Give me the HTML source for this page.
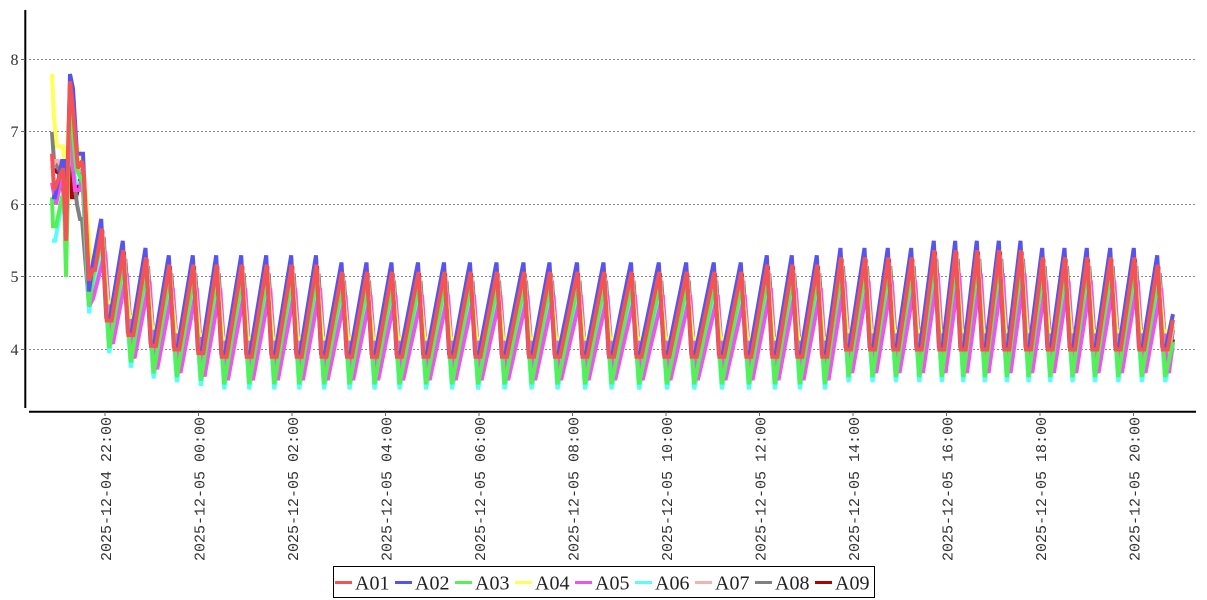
<!DOCTYPE html>
<html><head><meta charset="utf-8"><style>
html,body{margin:0;padding:0;background:#fff;}
svg{display:block;}
</style></head><body>
<svg id="c" width="1207" height="600" viewBox="0 0 1207 600" xmlns="http://www.w3.org/2000/svg">
<rect width="1207" height="600" fill="#fff"/>
<g stroke="#888" stroke-width="1" stroke-dasharray="2,2">
<line x1="29" x2="1196" y1="59.5" y2="59.5"/>
<line x1="29" x2="1196" y1="131.5" y2="131.5"/>
<line x1="29" x2="1196" y1="204.5" y2="204.5"/>
<line x1="29" x2="1196" y1="276.5" y2="276.5"/>
<line x1="29" x2="1196" y1="349.5" y2="349.5"/>
</g>
<g id="series"></g>
<g stroke="#000" stroke-width="2">
<line x1="25.3" x2="25.3" y1="10" y2="408"/>
<line x1="29" x2="1196" y1="411.7" y2="411.7"/>
</g>
<g stroke="#666" stroke-width="1">
<line x1="21" x2="25" y1="59.5" y2="59.5"/>
<line x1="21" x2="25" y1="131.5" y2="131.5"/>
<line x1="21" x2="25" y1="204.5" y2="204.5"/>
<line x1="21" x2="25" y1="276.5" y2="276.5"/>
<line x1="21" x2="25" y1="349.5" y2="349.5"/>
<line x1="105" x2="105" y1="412" y2="416"/>
<line x1="198.5" x2="198.5" y1="412" y2="416"/>
<line x1="292" x2="292" y1="412" y2="416"/>
<line x1="385.5" x2="385.5" y1="412" y2="416"/>
<line x1="479" x2="479" y1="412" y2="416"/>
<line x1="572.5" x2="572.5" y1="412" y2="416"/>
<line x1="666" x2="666" y1="412" y2="416"/>
<line x1="759.5" x2="759.5" y1="412" y2="416"/>
<line x1="853" x2="853" y1="412" y2="416"/>
<line x1="946.5" x2="946.5" y1="412" y2="416"/>
<line x1="1040" x2="1040" y1="412" y2="416"/>
<line x1="1133.5" x2="1133.5" y1="412" y2="416"/>
</g>
<g font-family="'Liberation Serif', serif" font-size="16" fill="#333" text-anchor="end">
<text x="18.5" y="65">8</text>
<text x="18.5" y="137">7</text>
<text x="18.5" y="210">6</text>
<text x="18.5" y="282">5</text>
<text x="18.5" y="355">4</text>
</g>
<g font-family="'Liberation Mono', monospace" font-size="15" fill="#333" text-anchor="end">
<text transform="translate(111,417) rotate(-90)">2025-12-04 22:00</text>
<text transform="translate(204.5,417) rotate(-90)">2025-12-05 00:00</text>
<text transform="translate(298,417) rotate(-90)">2025-12-05 02:00</text>
<text transform="translate(391.5,417) rotate(-90)">2025-12-05 04:00</text>
<text transform="translate(485,417) rotate(-90)">2025-12-05 06:00</text>
<text transform="translate(578.5,417) rotate(-90)">2025-12-05 08:00</text>
<text transform="translate(672,417) rotate(-90)">2025-12-05 10:00</text>
<text transform="translate(765.5,417) rotate(-90)">2025-12-05 12:00</text>
<text transform="translate(859,417) rotate(-90)">2025-12-05 14:00</text>
<text transform="translate(952.5,417) rotate(-90)">2025-12-05 16:00</text>
<text transform="translate(1046,417) rotate(-90)">2025-12-05 18:00</text>
<text transform="translate(1139.5,417) rotate(-90)">2025-12-05 20:00</text>
</g>
<rect x="333.5" y="566.5" width="541" height="31" fill="#fff" stroke="#000" stroke-width="1"/>
<g stroke-width="3">
<line x1="335" x2="352" y1="582.5" y2="582.5" stroke="#f55353"/>
<line x1="395" x2="412" y1="582.5" y2="582.5" stroke="#5555ee"/>
<line x1="455" x2="472" y1="582.5" y2="582.5" stroke="#55f055"/>
<line x1="515" x2="532" y1="582.5" y2="582.5" stroke="#ffff55"/>
<line x1="575" x2="592" y1="582.5" y2="582.5" stroke="#ee55ee"/>
<line x1="635" x2="652" y1="582.5" y2="582.5" stroke="#55ffff"/>
<line x1="695" x2="712" y1="582.5" y2="582.5" stroke="#f5b0b0"/>
<line x1="755" x2="772" y1="582.5" y2="582.5" stroke="#808080"/>
<line x1="815" x2="832" y1="582.5" y2="582.5" stroke="#b00000"/>
</g>
<g font-family="'Liberation Serif', serif" font-size="20" fill="#222">
<text x="355" y="589.5">A01</text>
<text x="415" y="589.5">A02</text>
<text x="475" y="589.5">A03</text>
<text x="535" y="589.5">A04</text>
<text x="595" y="589.5">A05</text>
<text x="655" y="589.5">A06</text>
<text x="715" y="589.5">A07</text>
<text x="775" y="589.5">A08</text>
<text x="835" y="589.5">A09</text>
</g>
</svg>
<script>
(function(){
var Y=function(v){return 349.5-(v-4)*72.5;};
var P=[101.7,123.3,146,169.3,193.3,216.7,241.7,266.7,291.7,316.5,342,367,392,418.5,444.5,470.5,497,524,550,577.5,604,631.5,659.3,686.7,714.3,741.3,767.3,792.3,817.3,841,865,888.3,911.7,934.3,955.7,977.3,999.3,1021,1042.7,1065,1087.3,1110.7,1134.3,1157.7];
var BP=[5.8,5.5,5.4,5.3,5.3,5.3,5.3,5.3,5.3,5.3];
var i;
for(i=0;i<16;i++)BP.push(5.2);
BP.push(5.3,5.3,5.3,5.4,5.4,5.4,5.4,5.5,5.5,5.5,5.5,5.5,5.4,5.4,5.4,5.4,5.4,5.3);
var RV=[4.4,4.2,4.05,4.0,3.95];
for(i=5;i<=28;i++)RV.push(3.9);
for(i=29;i<44;i++)RV.push(4.0);
/* color, dPk, dV, shift, dropDur, flatDur, early */
var S=[
['#f55353',-0.13,0,0,5,5,[[52,6.7],[54,6.2],[57,6.3],[63,6.5],[66,5.5],[70,7.7],[73,7.3],[76,6.8],[78,6.5],[82,6.6],[84,6.4],[89,4.95],[93,5.1],[95,5.1]]],
['#5555ee',0,0.05,-0.5,5,4,[[52,6.1],[55,6.1],[62,6.6],[64,6.6],[66,5.6],[70,7.8],[73,7.6],[77,6.7],[83,6.7],[89,4.8],[93,5.2]]],
['#55f055',-0.3,-0.38,0.5,7,0,[[52,6.1],[53,5.7],[56,5.7],[62,6.1],[64,6.1],[66,5.0],[70,7.5],[73,7.0],[76,6.5],[83,6.3],[89,4.6],[93,5.0]]],
['#ffff55',-0.35,0.25,1,5,5,[[52,7.8],[54,7.2],[57,6.8],[63,6.8],[66,6.3],[70,7.6],[73,7.2],[77,6.8],[83,6.6],[90,5.3],[94,5.2]]],
['#ee55ee',-0.45,-0.3,3.5,6,2,[[52,6.3],[56,6.0],[62,6.4],[66,6.0],[70,7.1],[73,6.5],[75,6.2],[80,6.2],[82,6.45],[89,4.6],[93,4.7]]],
['#55ffff',-0.4,-0.45,0.5,7,0,[[52,5.5],[55,5.5],[62,6.0],[66,5.8],[70,7.0],[73,6.5],[76,6.3],[83,6.3],[89,4.5],[93,4.9]]],
['#f5b0b0',-0.2,-0.1,1,5,4,[[52,6.5],[55,6.6],[58,6.6],[63,6.5],[66,6.0],[70,7.5],[73,6.8],[76,6.5],[83,6.4],[89,4.8],[93,5.0]]],
['#808080',-0.25,-0.15,2,6,3,[[52,7.0],[54,6.6],[58,6.5],[62,6.4],[66,6.0],[70,7.2],[73,6.5],[77,6.0],[80,5.8],[82,5.8],[89,4.6],[93,5.0]]],
['#b00000',-0.15,-0.4,0.5,7,0,[[52,6.5],[62,6.4],[66,5.8],[70,7.4],[72,6.1],[76,6.1],[83,6.5],[89,4.8],[93,5.0]]]
];
var g=document.getElementById('series');
var ns='http://www.w3.org/2000/svg';
for(var s=S.length-1;s>=0;s--){
  var d=S[s],pts=[];
  var e=d[6];
  for(i=0;i<e.length;i++)pts.push([e[i][0],e[i][1]]);
  var pk,v;
  for(i=0;i<P.length;i++){
    var x=P[i]+d[3];
    pk=BP[i]+d[1];
    v=RV[i]+d[2];
    pts.push([x,pk]);
    pts.push([x+d[4],v]);
    if(d[5]>0)pts.push([x+d[4]+d[5],v]);
  }
  pts.push([1173,v+0.35*(pk-v)]);
  var str=pts.map(function(p){return p[0].toFixed(1)+','+Y(p[1]).toFixed(1);}).join(' ');
  var pl=document.createElementNS(ns,'polyline');
  pl.setAttribute('points',str);
  pl.setAttribute('fill','none');
  pl.setAttribute('stroke',d[0]);
  pl.setAttribute('stroke-width','4');
  pl.setAttribute('stroke-linejoin','miter');
  pl.setAttribute('stroke-miterlimit','2');
  g.appendChild(pl);
}
})();
</script>
</body></html>
